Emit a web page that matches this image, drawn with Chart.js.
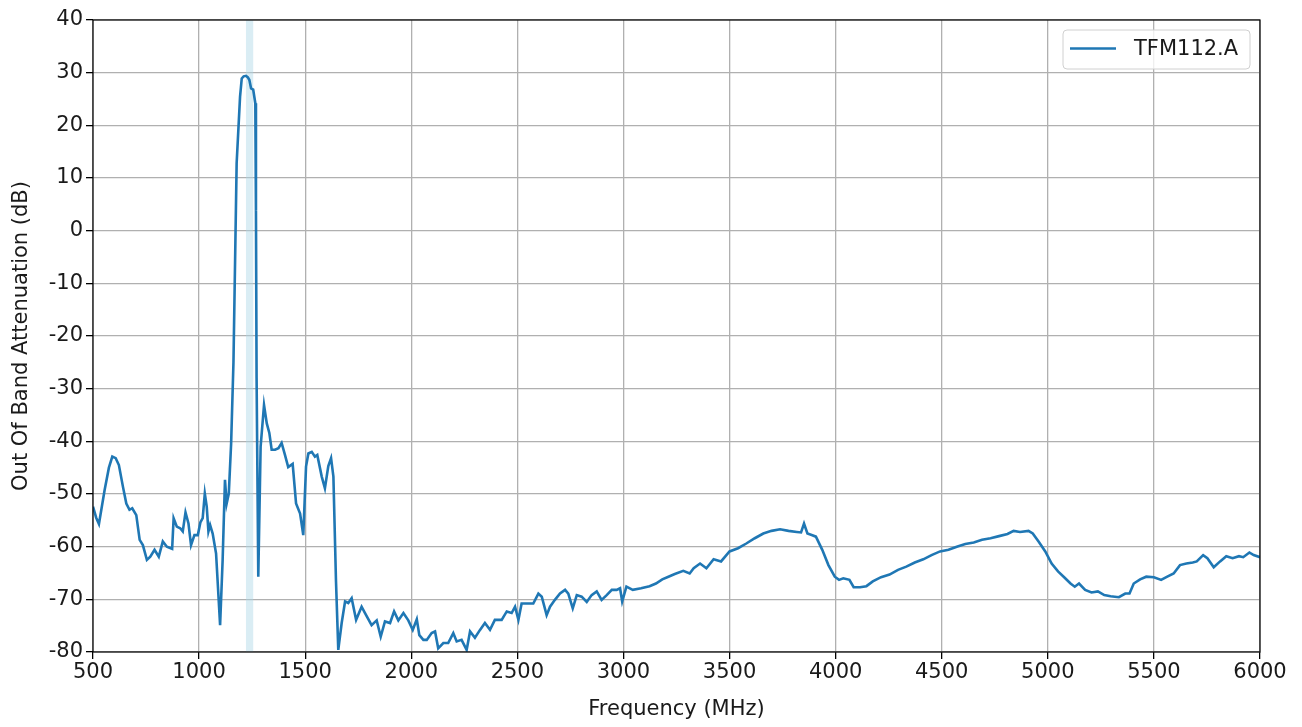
<!DOCTYPE html>
<html>
<head>
<meta charset="utf-8">
<script src="https://cdn.jsdelivr.net/npm/chart.js@4/dist/chart.umd.min.js"></script>
<style>
  html, body { margin: 0; padding: 0; background: #fff; }
  #wrap { width: 1302px; height: 727px; }
</style>
</head>
<body>
<div id="wrap"><canvas id="chart" width="1302" height="727"></canvas></div>
<script>
// frequency (MHz) and attenuation (dB)
const freqs = [
  500, 515, 528, 555, 575, 591, 607, 622, 641, 657, 672, 685, 704, 720, 735, 754, 770, 790, 810, 829,
  848, 873, 880, 895, 911, 923, 936, 950, 962, 978, 994, 1006, 1017, 1027, 1036, 1044, 1052, 1064, 1080, 1099,
  1111, 1122, 1130, 1140, 1151, 1162, 1177, 1193, 1201, 1210, 1221, 1230, 1237, 1245, 1255, 1265, 1268, 1271, 1279, 1290,
  1306, 1319, 1331, 1342, 1358, 1374, 1389, 1405, 1420, 1441, 1457, 1476, 1491, 1504, 1515, 1531, 1546, 1557, 1578, 1593,
  1609, 1622, 1633, 1645, 1656, 1672, 1688, 1703, 1719, 1740, 1766, 1782, 1813, 1837, 1856, 1876, 1900, 1919, 1939, 1963,
  1986, 2007, 2026, 2038, 2057, 2073, 2096, 2112, 2127, 2151, 2174, 2198, 2214, 2237, 2261, 2277, 2300, 2324, 2347, 2371,
  2394, 2426, 2450, 2473, 2489, 2505, 2520, 2544, 2575, 2599, 2615, 2638, 2654, 2677, 2701, 2725, 2740, 2761, 2780, 2803,
  2827, 2850, 2874, 2897, 2921, 2945, 2968, 2984, 2994, 3014, 3044, 3083, 3123, 3153, 3183, 3212, 3242, 3282, 3312, 3331,
  3361, 3391, 3425, 3460, 3500, 3540, 3579, 3619, 3659, 3698, 3738, 3778, 3817, 3837, 3851, 3867, 3887, 3907, 3937, 3966,
  3996, 4016, 4036, 4065, 4085, 4115, 4145, 4175, 4214, 4254, 4294, 4333, 4373, 4413, 4452, 4492, 4532, 4571, 4611, 4651,
  4690, 4730, 4770, 4810, 4839, 4869, 4909, 4929, 4958, 4988, 5018, 5048, 5077, 5107, 5127, 5147, 5176, 5206, 5236, 5266,
  5296, 5335, 5365, 5385, 5405, 5435, 5464, 5500, 5534, 5563, 5593, 5623, 5653, 5683, 5702, 5732, 5752, 5782, 5812, 5841,
  5871, 5901, 5921, 5950, 5970, 6000
];
const atten = [
  -52.4, -54.5, -55.7, -49.2, -45, -42.9, -43.2, -44.5, -48.6, -51.8, -53, -52.7, -54, -58.7, -59.7, -62.5, -61.9, -60.6, -61.9, -59,
  -60, -60.4, -54.6, -56.2, -56.5, -57.1, -53.5, -55.6, -59.7, -57.8, -57.8, -55.4, -54.6, -49.9, -52.4, -57.1, -55.9, -57.5, -61.3, -74.9,
  -62.5, -47.3, -51.8, -49.9, -40.4, -25, 12.8, 25.4, 28.9, 29.3, 29.4, 29.1, 28.6, 27, 26.8, 24.2, 3.9, -28, -65.7, -41,
  -33.1, -36.6, -38.4, -41.6, -41.6, -41.3, -40.3, -42.6, -44.9, -44.3, -51.8, -53.7, -57.8, -44.8, -42.3, -42, -42.9, -42.6, -46.7, -48.9,
  -44.7, -43.2, -46.7, -66.3, -79.6, -74.5, -70.4, -70.7, -69.8, -73.9, -71.4, -72.6, -74.9, -74, -77.1, -74.2, -74.5, -72.3, -74, -72.6,
  -74, -75.8, -73.8, -76.8, -77.7, -77.7, -76.4, -76.1, -79.3, -78.3, -78.3, -76.4, -78, -77.7, -79.6, -76.1, -77.3, -75.8, -74.5, -75.8,
  -73.9, -73.9, -72.3, -72.6, -71.4, -73.9, -70.8, -70.8, -70.8, -68.9, -69.5, -73, -71.4, -70.1, -68.9, -68.2, -68.9, -71.7, -69.2, -69.5,
  -70.5, -69.2, -68.5, -70.1, -69.2, -68.2, -68.2, -67.9, -70.4, -67.6, -68.2, -67.9, -67.5, -67, -66.2, -65.7, -65.2, -64.6, -65.1, -64.1,
  -63.2, -64.1, -62.4, -62.8, -60.9, -60.3, -59.4, -58.4, -57.5, -57, -56.7, -57, -57.2, -57.3, -55.6, -57.5, -57.8, -58.1, -60.6, -63.5,
  -65.7, -66.3, -66, -66.3, -67.7, -67.7, -67.5, -66.6, -65.8, -65.3, -64.4, -63.8, -63, -62.4, -61.6, -60.9, -60.6, -60, -59.5, -59.2,
  -58.7, -58.4, -58, -57.6, -57, -57.2, -57, -57.5, -59.1, -60.9, -63.2, -64.7, -65.8, -67, -67.6, -67, -68.2, -68.7, -68.5, -69.2,
  -69.4, -69.6, -68.9, -68.9, -67, -66.2, -65.7, -65.8, -66.3, -65.7, -65.1, -63.5, -63.2, -63, -62.8, -61.6, -62.2, -63.9, -62.8, -61.8,
  -62.2, -61.8, -62, -61.1, -61.6, -62
];
const passBand = [1221, 1255];   // shaded band, MHz
const seriesName = 'TFM112.A';
const lineColor = '#1f77b4';
const FONT = "'DejaVu Sans', sans-serif";

const points = freqs.map((f, i) => ({ x: f, y: atten[i] }));

// light blue span behind the curve + black frame + legend box
const decor = {
  id: 'decor',
  beforeDatasetsDraw(chart) {
    const { ctx, chartArea, scales } = chart;
    const x0 = scales.x.getPixelForValue(passBand[0]);
    const x1 = scales.x.getPixelForValue(passBand[1]);
    ctx.save();
    ctx.fillStyle = 'rgba(173,216,230,0.45)';
    ctx.fillRect(x0, chartArea.top, x1 - x0, chartArea.bottom - chartArea.top);
    ctx.restore();
  },
  afterDraw(chart) {
    const { ctx, chartArea } = chart;
    ctx.save();
    ctx.strokeStyle = '#000';
    ctx.lineWidth = 1.2;
    ctx.strokeRect(chartArea.left, chartArea.top, chartArea.right - chartArea.left, chartArea.bottom - chartArea.top);

    // legend
    const bx = chartArea.right - 197, by = chartArea.top + 10, bw = 187, bh = 39, r = 4;
    ctx.beginPath();
    ctx.moveTo(bx + r, by);
    ctx.arcTo(bx + bw, by, bx + bw, by + bh, r);
    ctx.arcTo(bx + bw, by + bh, bx, by + bh, r);
    ctx.arcTo(bx, by + bh, bx, by, r);
    ctx.arcTo(bx, by, bx + bw, by, r);
    ctx.closePath();
    ctx.fillStyle = 'rgba(255,255,255,0.8)';
    ctx.fill();
    ctx.strokeStyle = '#d0d0d0';
    ctx.lineWidth = 1;
    ctx.stroke();
    ctx.beginPath();
    ctx.moveTo(bx + 7, by + 18.5);
    ctx.lineTo(bx + 53, by + 18.5);
    ctx.strokeStyle = lineColor;
    ctx.lineWidth = 2.6;
    ctx.stroke();
    ctx.fillStyle = '#1a1a1a';
    ctx.font = '21px ' + FONT;
    ctx.textBaseline = 'middle';
    ctx.fillText(seriesName, bx + 71, by + 19.5);
    ctx.restore();
  }
};

const tickFont = { family: FONT, size: 21 };

new Chart(document.getElementById('chart'), {
  type: 'line',
  data: {
    datasets: [{
      label: seriesName,
      data: points,
      borderColor: lineColor,
      borderWidth: 2.6,
      pointRadius: 0,
      tension: 0,
      fill: false
    }]
  },
  options: {
    responsive: false,
    animation: false,
    layout: { padding: { top: 20, right: 42, left: 0, bottom: 0 } },
    plugins: {
      legend: { display: false },
      tooltip: { enabled: false }
    },
    scales: {
      x: {
        type: 'linear',
        min: 500,
        max: 6000,
        afterFit(scale) { scale.height = 75; },
        ticks: {
          stepSize: 500,
          color: '#1a1a1a',
          font: tickFont,
          padding: 1,
          maxRotation: 0,
          callback: v => String(v)
        },
        grid: { color: '#b0b0b0', lineWidth: 1.3, tickColor: '#000', tickLength: 7 },
        border: { display: false },
        title: {
          display: true,
          text: 'Frequency (MHz)',
          color: '#1a1a1a',
          font: tickFont,
          padding: { top: 0, bottom: 5 }
        }
      },
      y: {
        min: -80,
        max: 40,
        afterFit(scale) { scale.width = 93; },
        ticks: {
          stepSize: 10,
          color: '#1a1a1a',
          font: tickFont,
          padding: 3,
          callback: v => String(v)
        },
        grid: { color: '#b0b0b0', lineWidth: 1.3, tickColor: '#000', tickLength: 7 },
        border: { display: false },
        title: {
          display: true,
          text: 'Out Of Band Attenuation (dB)',
          color: '#1a1a1a',
          font: tickFont,
          padding: { top: 9, bottom: 0 }
        }
      }
    }
  },
  plugins: [decor]
});
</script>
</body>
</html>
